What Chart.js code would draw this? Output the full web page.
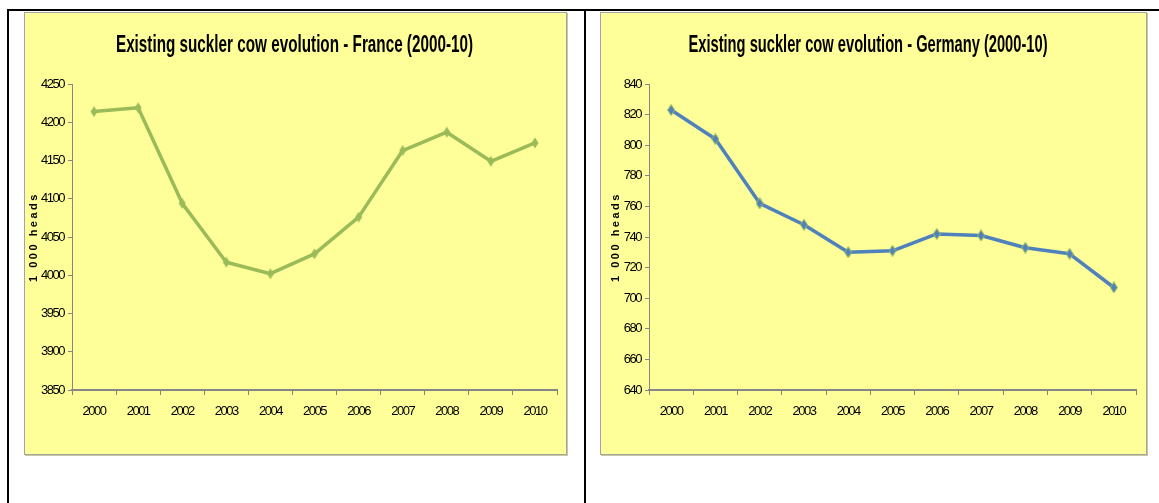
<!DOCTYPE html>
<html><head><meta charset="utf-8">
<script src="https://cdn.jsdelivr.net/npm/chart.js@4"></script>
<style>
html,body{margin:0;padding:0;background:#fff;width:1159px;height:503px;overflow:hidden;position:relative;}
.ln{position:absolute;background:#000;}
.box{position:absolute;background:#FFFF99;box-shadow: inset 0 0 0 1px #a3a3a3, 1px 1px 0 #c9c9a0;}
.box canvas{position:absolute;left:0;top:0;}
</style></head><body>
<div class="ln" style="left:7px;top:9px;width:1152px;height:2px"></div>
<div class="ln" style="left:7px;top:9px;width:2px;height:494px"></div>
<div class="ln" style="left:584px;top:9px;width:2px;height:494px"></div>
<div class="box" style="left:24px;top:12px;width:543px;height:443px"><canvas id="c1" width="543" height="443"></canvas></div>
<div class="box" style="left:600px;top:12px;width:547px;height:443px"><canvas id="c2" width="547" height="443"></canvas></div>
<script>
// ---- data ----
const years = ['2000','2001','2002','2003','2004','2005','2006','2007','2008','2009','2010'];
const franceValues = [4214, 4219, 4094, 4017, 4002, 4028, 4076, 4163, 4187, 4149, 4173];
const germanyValues = [823, 804, 762, 748, 730, 731, 742, 741, 733, 729, 707];
const franceTicks = [3850, 3900, 3950, 4000, 4050, 4100, 4150, 4200, 4250];
const germanyTicks = [640, 660, 680, 700, 720, 740, 760, 780, 800, 820, 840];
const franceTitle = 'Existing suckler cow evolution - France (2000-10)';
const germanyTitle = 'Existing suckler cow evolution - Germany (2000-10)';
const yAxisTitle = '1 000 heads';

// ---- styling helpers ----
function makeDiamond(w, h, fill, stroke, lw) {
  const c = document.createElement('canvas');
  c.width = w; c.height = h;
  const g = c.getContext('2d');
  g.beginPath();
  g.moveTo(w/2, 0.5); g.lineTo(w-0.5, h/2); g.lineTo(w/2, h-0.5); g.lineTo(0.5, h/2); g.closePath();
  g.fillStyle = fill; g.fill();
  if (stroke) { g.lineWidth = lw; g.strokeStyle = stroke; g.stroke(); }
  return c;
}

function withSpacing(ctx, px, fn) {
  const has = 'letterSpacing' in ctx;
  const prev = has ? ctx.letterSpacing : null;
  ctx.save();
  if (has) ctx.letterSpacing = px + 'px';
  fn();
  ctx.restore();
  if (has) ctx.letterSpacing = prev;
}

const textTweaks = {
  id: 'textTweaks',
  beforeDraw(chart, args, opts) {
    const ctx = chart.ctx;
    const tb = chart.titleBlock;
    if (tb && !tb._tw) {
      tb._tw = true;
      const orig = tb.draw.bind(tb);
      tb.draw = function () {
        const c0 = (tb.left + tb.right) / 2;
        ctx.save();
        ctx.translate(c0 + (opts.titleShift || 0), 0);
        ctx.scale(opts.titleScaleX || 1, 1);
        ctx.translate(-c0, 0);
        orig();
        ctx.restore();
      };
    }
    ['x', 'y'].forEach(k => {
      const s = chart.scales[k];
      if (!s || s._tw) return;
      s._tw = true;
      const d = s.draw.bind(s);
      s.draw = function (a) { withSpacing(ctx, opts.tickSpacing || 0, () => d(a)); };
      const dl = s.drawLabels.bind(s);
      s.drawLabels = function (a) { withSpacing(ctx, opts.tickSpacing || 0, () => dl(a)); };
      const dt = s.drawTitle.bind(s);
      s.drawTitle = function () { withSpacing(ctx, opts.axisTitleSpacing || 0, () => dt()); };
    });
  }
};

const NARROW = '"Liberation Sans Narrow", "Arial Narrow", "Liberation Sans", Arial, sans-serif';
const SANS = '"Liberation Sans", Arial, sans-serif';

function build(id, title, values, ticks, lineColor, pointImg, L) {
  const axisGray = '#868686';
  return new Chart(document.getElementById(id), {
    type: 'line',
    data: {
      labels: years,
      datasets: [{
        data: values,
        borderColor: lineColor,
        borderWidth: 3.5,
        borderJoinStyle: 'round',
        borderCapStyle: 'round',
        tension: 0,
        fill: false,
        pointStyle: pointImg,
        pointRadius: 6,
        pointHoverRadius: 6,
        clip: false
      }]
    },
    plugins: [textTweaks],
    options: {
      responsive: false,
      animation: false,
      events: [],
      layout: { padding: { left: 0, right: L.padRight, top: 0, bottom: 0 } },
      plugins: {
        legend: { display: false },
        tooltip: { enabled: false },
        title: {
          display: true,
          text: title,
          color: '#000',
          font: { family: NARROW, size: 24, weight: 'bold', lineHeight: 1.2 },
          padding: { top: 18.6, bottom: 24.6 }
        },
        textTweaks: { titleScaleX: 0.67, titleShift: L.titleShift, axisTitleSpacing: 2.5, tickSpacing: -1.5 }
      },
      scales: {
        x: {
          type: 'category',
          offset: true,
          grid: { display: true, drawOnChartArea: false, drawTicks: true, tickLength: 5, color: axisGray, offset: true },
          border: { display: true, color: axisGray, width: 2 },
          ticks: { color: '#000', font: { family: NARROW, size: 13 }, padding: 9, maxRotation: 0, autoSkip: false },
          afterFit(s) { s.height = 65; }
        },
        y: {
          type: 'linear',
          min: ticks[0],
          max: ticks[ticks.length - 1],
          afterBuildTicks(s) { s.ticks = ticks.map(v => ({ value: v })); },
          grid: { display: true, drawOnChartArea: false, drawTicks: true, tickLength: 4, color: axisGray },
          border: { display: true, color: axisGray, width: 1 },
          ticks: { color: '#000', font: { family: NARROW, size: 13 }, padding: 4, callback: v => String(v) },
          title: {
            display: true,
            text: yAxisTitle,
            color: '#000',
            font: { family: SANS, size: 11, weight: 'bold', lineHeight: 1.2 },
            padding: { top: L.yTitlePad, bottom: 0 }
          },
          afterFit(s) { s.width = L.yWidth; }
        }
      }
    }
  });
}

build('c1', franceTitle, franceValues, franceTicks, '#9BBB59',
  makeDiamond(8, 12, '#9BBB59', null, 0),
  { padRight: 10, yWidth: 48, yTitlePad: 3.4, titleShift: 4 });
build('c2', germanyTitle, germanyValues, germanyTicks, '#4F81BD',
  makeDiamond(8, 12, '#4F81BD', '#9BBB59', 1),
  { padRight: 11, yWidth: 49, yTitlePad: 9.4, titleShift: 0 });
</script>
</body></html>
